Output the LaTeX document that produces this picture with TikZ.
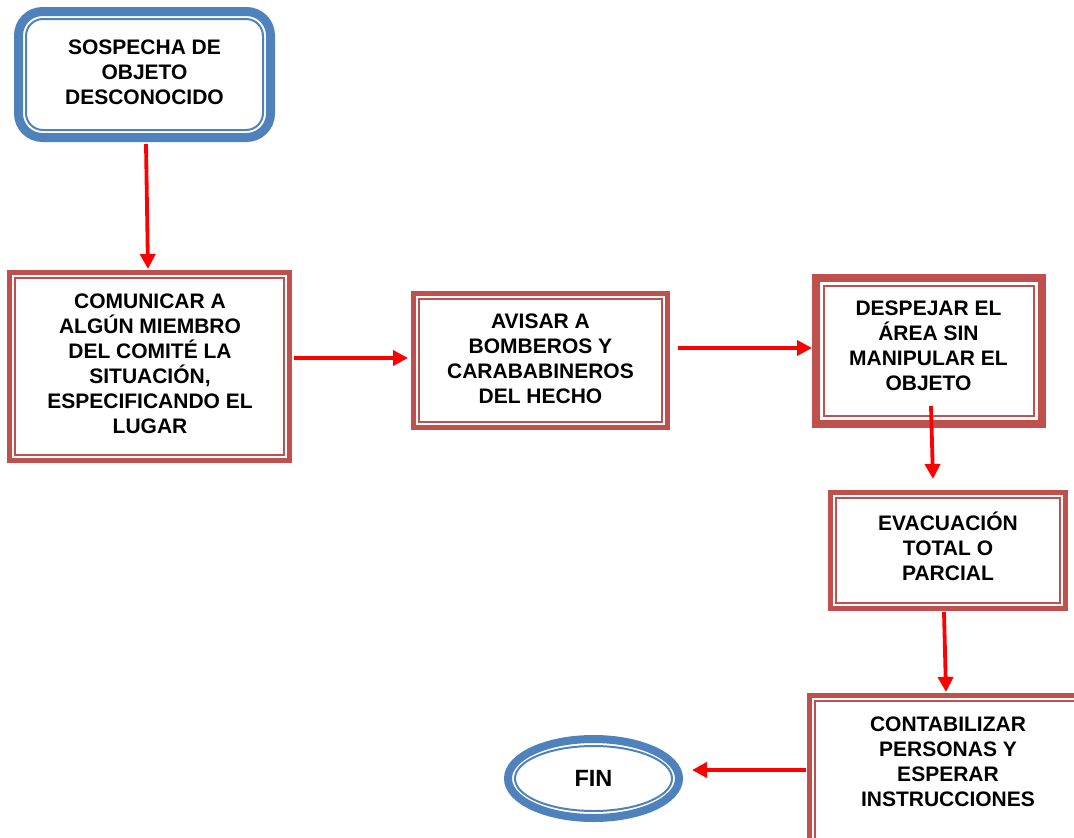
\documentclass[tikz,border=0pt]{standalone}
\usepackage{fontspec}
\setmainfont{Liberation Sans}
\usetikzlibrary{arrows.meta,shapes.geometric,calc}
\definecolor{bblue}{HTML}{4F81BD}
\definecolor{bred}{HTML}{C0504D}
\definecolor{arred}{HTML}{FF0000}
\begin{document}
\begin{tikzpicture}[x=1pt,y=-1pt,
  txt/.style={font=\fontsize{21}{25}\selectfont\bfseries, align=center, inner sep=0pt},
  redbox/.style={draw=bred, line width=5pt, inner sep=0pt, outer sep=0pt},
  innerred/.style={draw=bred, line width=1.5pt},
  arr/.style={draw=arred, line width=3.8pt, -{Triangle[length=15pt,width=15pt]}},
]
\useasboundingbox (0,0) rectangle (1074,838);
\clip (0,0) rectangle (1074,838);

% start box
\node[draw=bblue, line width=9pt, rounded corners=24pt, minimum width=252pt,
      minimum height=126pt, inner sep=0pt, outer sep=0pt] (b1) at (144.5,74.5) {};
\draw[bblue, line width=2pt, rounded corners=17pt]
  ($(b1.north west)+(7.5,7.5)$) rectangle ($(b1.south east)+(-7.5,-7.5)$);
\node[txt] (t1) at (144.5,72) {SOSPECHA DE\\OBJETO\\DESCONOCIDO};

% box 2
\node[redbox, minimum width=280pt, minimum height=188pt] (b2) at (149.5,366.5) {};
\draw[innerred] ($(b2.north west)+(5.5,5.5)$) rectangle ($(b2.south east)+(-5.5,-5.5)$);
\node[txt] (t2) at (150,363.5) {COMUNICAR A\\ALGÚN MIEMBRO\\DEL COMITÉ LA\\SITUACIÓN,\\ESPECIFICANDO EL\\LUGAR};

% box 3
\node[redbox, minimum width=254pt, minimum height=134pt] (b3) at (540.5,360.5) {};
\draw[innerred] ($(b3.north west)+(5.5,5.5)$) rectangle ($(b3.south east)+(-5.5,-5.5)$);
\node[txt] (t3) at (540.5,359) {AVISAR A\\BOMBEROS Y\\CARABABINEROS\\DEL HECHO};

% box 4
\node[redbox, line width=8pt, minimum width=226pt, minimum height=146pt] (b4) at (929,351) {};
\draw[bred, line width=2.5pt] ($(b4.north west)+(8,8)$) rectangle ($(b4.south east)+(-8,-8)$);
\node[txt] (t4) at (928.5,346) {DESPEJAR EL\\ÁREA SIN\\MANIPULAR EL\\OBJETO};

% box 5
\node[redbox, minimum width=235pt, minimum height=116pt] (b5) at (948,550.5) {};
\draw[innerred] ($(b5.north west)+(5.5,5.5)$) rectangle ($(b5.south east)+(-5.5,-5.5)$);
\node[txt] (t5) at (948,546.7) {EVACUACIÓN\\TOTAL O\\PARCIAL};

% box 6
\node[redbox, minimum width=281pt, minimum height=154.5pt] (b6) at (950,772.75) {};
\draw[innerred] ($(b6.north west)+(5.5,5.5)$) rectangle ($(b6.south east)+(-5.5,-5.5)$);
\node[txt] (t6) at (948,762) {CONTABILIZAR\\PERSONAS Y\\ESPERAR\\INSTRUCCIONES};

% end
\node[ellipse, draw=bblue, line width=8pt, minimum width=171pt, minimum height=79pt,
      inner sep=0pt, outer sep=0pt, font=\fontsize{23.5}{28}\selectfont\bfseries] (fin) at (593.5,778.5) {FIN};
\draw[bblue, line width=2pt] (fin.center) ellipse [x radius=78.5pt, y radius=32.5pt];

% connectors
\draw[arr] ([shift={(1.5,6.5)}]b1.south) -- ([shift={(-1.5,-3.5)}]b2.north);
\draw[arr] ([shift={(4.5,-8.5)}]b2.east) -- ([shift={(-5.5,-2.5)}]b3.west);
\draw[arr] ([shift={(10.5,-12.5)}]b3.east) -- ([shift={(-4,-3)}]b4.west);
\draw[arr] ([shift={(2,-18)}]b4.south) -- ([shift={(-15,-13.5)}]b5.north);
\draw[arr] ([shift={(-4,3.5)}]b5.south) -- ([shift={(-4,-3.5)}]b6.north);
\draw[arr] ([shift={(-3.5,-2.75)}]b6.west) -- ([shift={(13,-8.5)}]fin.east);
\end{tikzpicture}
\end{document}
